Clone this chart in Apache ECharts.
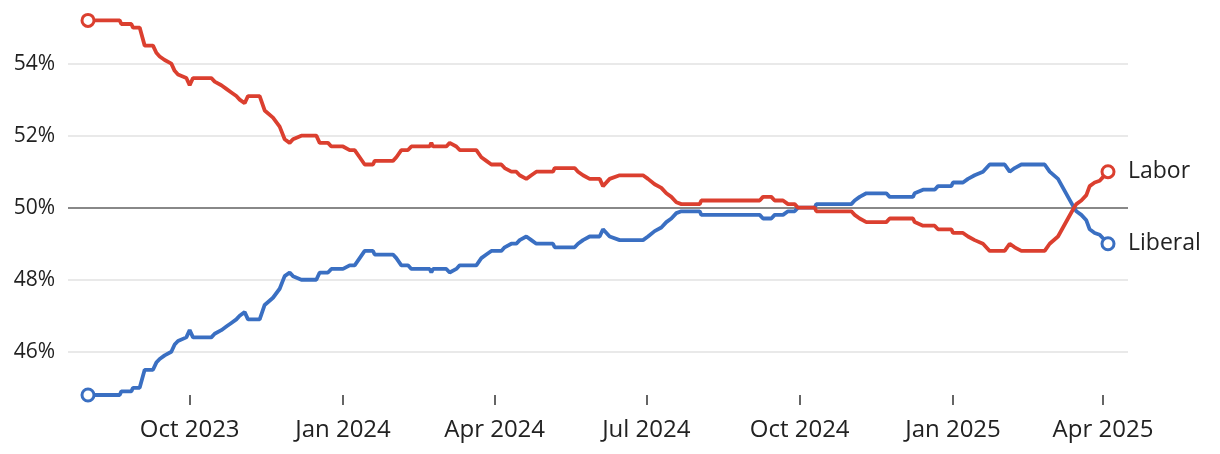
<!DOCTYPE html>
<html>
<head>
<meta charset="utf-8">
<script src="https://cdn.jsdelivr.net/npm/echarts@6/dist/echarts.min.js"></script>
<style>
html,body{margin:0;padding:0;background:#fff;}
#chart{width:1220px;height:454px;}
</style>
</head>
<body>
<div id="chart"></div>
<script>
const dates = [
"2023-08-01","2023-08-20","2023-08-21","2023-08-27","2023-08-28","2023-09-01","2023-09-04","2023-09-09",
"2023-09-11","2023-09-13","2023-09-16","2023-09-20","2023-09-22","2023-09-24","2023-09-29","2023-10-01",
"2023-10-03","2023-10-14","2023-10-16","2023-10-20","2023-10-23","2023-10-26","2023-10-29","2023-10-31",
"2023-11-03","2023-11-05","2023-11-12","2023-11-15","2023-11-20","2023-11-24","2023-11-27","2023-11-30",
"2023-12-02","2023-12-07","2023-12-16","2023-12-18","2023-12-23","2023-12-25","2024-01-01","2024-01-05",
"2024-01-08","2024-01-11","2024-01-14","2024-01-19","2024-01-20","2024-01-31","2024-02-02","2024-02-05",
"2024-02-09","2024-02-11","2024-02-22","2024-02-23","2024-02-24","2024-03-03","2024-03-05","2024-03-09",
"2024-03-11","2024-03-21","2024-03-24","2024-03-27","2024-03-30","2024-04-05","2024-04-07","2024-04-11",
"2024-04-14","2024-04-16","2024-04-20","2024-04-23","2024-04-26","2024-05-06","2024-05-07","2024-05-19",
"2024-05-21","2024-05-24","2024-05-28","2024-06-03","2024-06-05","2024-06-09","2024-06-15","2024-06-29",
"2024-07-02","2024-07-06","2024-07-10","2024-07-13","2024-07-16","2024-07-19","2024-07-22","2024-08-02",
"2024-08-03","2024-09-07","2024-09-09","2024-09-14","2024-09-16","2024-09-21","2024-09-24","2024-09-28",
"2024-09-30","2024-10-10","2024-10-11","2024-11-01","2024-11-03","2024-11-06","2024-11-10","2024-11-22",
"2024-11-24","2024-12-08","2024-12-09","2024-12-14","2024-12-21","2024-12-23","2024-12-31","2025-01-01",
"2025-01-07","2025-01-10","2025-01-14","2025-01-19","2025-01-23","2025-02-01","2025-02-04","2025-02-07",
"2025-02-11","2025-02-25","2025-02-28","2025-03-05","2025-03-08","2025-03-11","2025-03-14","2025-03-16",
"2025-03-19","2025-03-22","2025-03-24","2025-03-27","2025-03-30","2025-04-01","2025-04-04"
];
const labor = [
55.2,55.2,55.1,55.1,55.0,55.0,54.5,54.5,
54.3,54.2,54.1,54.0,53.8,53.7,53.6,53.4,
53.6,53.6,53.5,53.4,53.3,53.2,53.1,53.0,
52.9,53.1,53.1,52.7,52.5,52.25,51.9,51.8,
51.9,52.0,52.0,51.8,51.8,51.7,51.7,51.6,
51.6,51.4,51.2,51.2,51.3,51.3,51.4,51.6,
51.6,51.7,51.7,51.8,51.7,51.7,51.8,51.7,
51.6,51.6,51.4,51.3,51.2,51.2,51.1,51.0,
51.0,50.9,50.8,50.9,51.0,51.0,51.1,51.1,
51.0,50.9,50.8,50.8,50.6,50.8,50.9,50.9,
50.8,50.65,50.55,50.4,50.3,50.15,50.1,50.1,
50.2,50.2,50.3,50.3,50.2,50.2,50.1,50.1,
50.0,50.0,49.9,49.9,49.8,49.7,49.6,49.6,
49.7,49.7,49.6,49.5,49.5,49.4,49.4,49.3,
49.3,49.2,49.1,49.0,48.8,48.8,49.0,48.9,
48.8,48.8,49.0,49.2,49.45,49.7,49.95,50.1,
50.2,50.35,50.6,50.7,50.75,50.85,51.0
];
const liberal = [
44.8,44.8,44.9,44.9,45.0,45.0,45.5,45.5,
45.7,45.8,45.9,46.0,46.2,46.3,46.4,46.6,
46.4,46.4,46.5,46.6,46.7,46.8,46.9,47.0,
47.1,46.9,46.9,47.3,47.5,47.75,48.1,48.2,
48.1,48.0,48.0,48.2,48.2,48.3,48.3,48.4,
48.4,48.6,48.8,48.8,48.7,48.7,48.6,48.4,
48.4,48.3,48.3,48.2,48.3,48.3,48.2,48.3,
48.4,48.4,48.6,48.7,48.8,48.8,48.9,49.0,
49.0,49.1,49.2,49.1,49.0,49.0,48.9,48.9,
49.0,49.1,49.2,49.2,49.4,49.2,49.1,49.1,
49.2,49.35,49.45,49.6,49.7,49.85,49.9,49.9,
49.8,49.8,49.7,49.7,49.8,49.8,49.9,49.9,
50.0,50.0,50.1,50.1,50.2,50.3,50.4,50.4,
50.3,50.3,50.4,50.5,50.5,50.6,50.6,50.7,
50.7,50.8,50.9,51.0,51.2,51.2,51.0,51.1,
51.2,51.2,51.0,50.8,50.55,50.3,50.05,49.9,
49.8,49.65,49.4,49.3,49.25,49.15,49.0
];
const yTicks = [46, 48, 50, 52, 54];
const xTicks = ["2023-10-01","2024-01-01","2024-04-01","2024-07-01","2024-10-01","2025-01-01","2025-04-01"];
const monthNames = ["Jan","Feb","Mar","Apr","May","Jun","Jul","Aug","Sep","Oct","Nov","Dec"];

const RED = '#db3f2f', BLUE = '#3a6fc2';
const FONT = '"Open Sans", Lato, sans-serif';
const ts = d => Date.parse(d + 'T00:00:00Z');

function mk(arr, color) {
  const last = arr.length - 1;
  return arr.map((v, i) => ({
    value: [ts(dates[i]), v],
    symbol: (i === 0 || i === last) ? 'circle' : 'none',
    symbolSize: 12,
    itemStyle: {color: '#fff', borderColor: color, borderWidth: 3}
  }));
}

const chart = echarts.init(document.getElementById('chart'), null, {renderer: 'canvas'});
chart.setOption({
  animation: false,
  grid: {left: 68, right: 92, top: 6, bottom: 59, containLabel: false},
  xAxis: {
    type: 'value',
    min: ts('2023-07-20'),
    max: ts('2025-04-16'),
    axisLine: {show: false},
    axisTick: {show: true, length: 10, lineStyle: {color: '#333', width: 1.5},
      customValues: xTicks.map(ts)},
    axisLabel: {
      customValues: xTicks.map(ts),
      margin: 23, fontSize: 24, color: '#222', fontFamily: FONT,
      formatter: v => { const d = new Date(v); return monthNames[d.getUTCMonth()] + ' ' + d.getUTCFullYear(); }
    },
    splitLine: {show: false}
  },
  yAxis: {
    type: 'value',
    min: 44.8, max: 55.6,
    axisLine: {show: false}, axisTick: {show: false},
    splitLine: {show: false},
    axisLabel: {customValues: yTicks, margin: 13, fontSize: 21, color: '#222', fontFamily: FONT,
      formatter: v => v + '%'}
  },
  series: [
    {
      name: 'grid', type: 'line', data: [], z: 1, silent: true,
      markLine: {
        z: 1, silent: true, symbol: 'none', label: {show: false},
        data: yTicks.map(t => ({yAxis: t, lineStyle: t === 50
          ? {color: '#888', width: 2, type: 'solid'}
          : {color: '#e2e2e2', width: 1.5, type: 'solid'}}))
      }
    },
    {
      name: 'Liberal', type: 'line', data: mk(liberal, BLUE), z: 3, clip: false,
      showSymbol: true, showAllSymbol: true,
      lineStyle: {color: BLUE, width: 3.8},
      color: BLUE,
      endLabel: {show: true, formatter: '{a}', color: '#222', fontSize: 23, fontFamily: FONT, distance: 20}
    },
    {
      name: 'Labor', type: 'line', data: mk(labor, RED), z: 4, clip: false,
      showSymbol: true, showAllSymbol: true,
      lineStyle: {color: RED, width: 3.8},
      color: RED,
      endLabel: {show: true, formatter: '{a}', color: '#222', fontSize: 23, fontFamily: FONT, distance: 20}
    }
  ]
});
</script>
</body>
</html>
